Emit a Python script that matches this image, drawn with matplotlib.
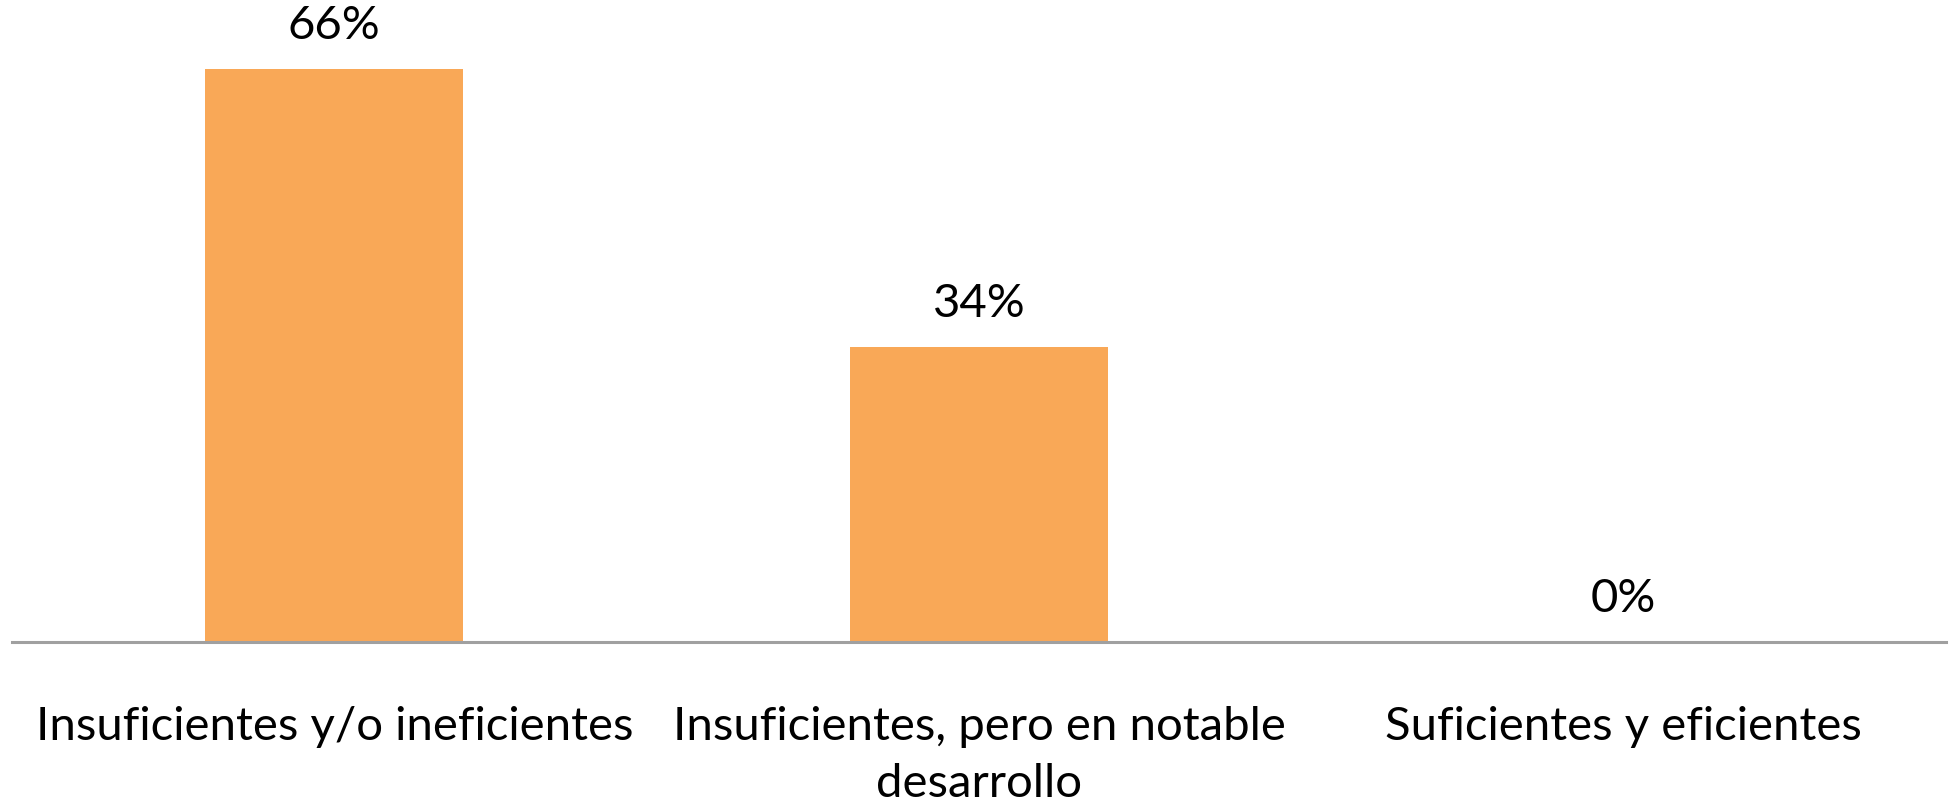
import numpy as np
import matplotlib.pyplot as plt

# data
categories = ["Insuficientes y/o ineficientes",
              "Insuficientes, pero en notable\ndesarrollo",
              "Suficientes y eficientes"]
values = [0.66, 0.34, 0.0]
labels = ["66%", "34%", "0%"]

plt.rcParams["font.family"] = ["Lato", "DejaVu Sans"]

W, H = 1952, 808
fig = plt.figure(figsize=(W / 100, H / 100), dpi=100)

# axes placed in pixel terms: left 12, right 1946, baseline at y=642
y_base = 642
px_per_unit = 868  # pixels per 1.0 (100%)
ymax = 0.72
ax = fig.add_axes([12 / W, 1 - y_base / H, (1946 - 12) / W, ymax * px_per_unit / H])

x = np.arange(len(categories))
bars = ax.bar(x, values, width=0.4, color="#F9A857")
ax.set_xlim(-0.5, len(categories) - 0.5)
ax.set_ylim(0, ymax)

for rect, lab in zip(bars, labels):
    ax.annotate(lab, (rect.get_x() + rect.get_width() / 2, rect.get_height()),
                xytext=(0, 16), textcoords="offset points",
                ha="center", va="bottom", fontsize=34, color="black")

for s in ["top", "right", "left"]:
    ax.spines[s].set_visible(False)
ax.spines["bottom"].set_color("#A0A0A0")
ax.spines["bottom"].set_linewidth(2.2)
ax.set_yticks([])
ax.set_xticks(x)
ax.set_xticklabels(categories, fontsize=34, linespacing=1.45)
ax.tick_params(axis="x", length=0, pad=46)

plt.savefig("out.png", dpi=100)
